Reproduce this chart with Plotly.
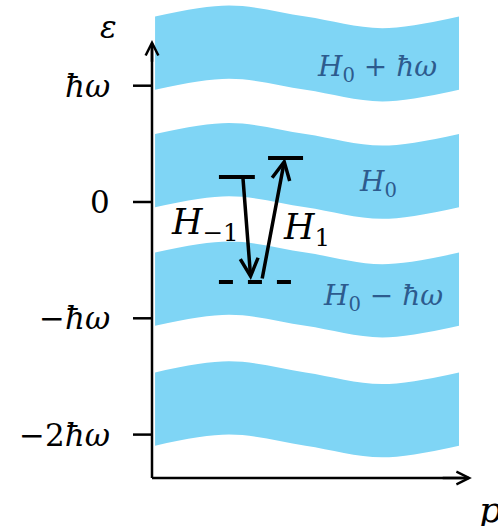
import plotly.graph_objects as go

# ---- Floquet sidebands (energies in units of hbar*omega) ----
band_centers = [1.28, 0.27, -0.75, -1.78]
band_half_width = 0.315
# common dispersion profile of every band, sampled along p
wave_p = [0.01, 0.25, 0.5, 0.75, 1.0]
wave_dE = [0.0, 0.095, 0.0, -0.10, 0.0]
band_color = "#7fd5f5"

band_labels = ["<i>H</i><sub>0</sub> + <i>ħω</i>",
               "<i>H</i><sub>0</sub>",
               "<i>H</i><sub>0</sub> − <i>ħω</i>"]
band_label_p = [0.733, 0.736, 0.752]
band_label_E = [1.152, 0.163, -0.817]

# ---- energy axis ticks ----
tick_vals = [1, 0, -1, -2]
tick_text = ["<i>ħω</i>", "0", "−<i>ħω</i>", "−2<i>ħω</i>"]

# ---- axis extents ----
axis_origin_E = -2.373
axis_top_E = 1.393
axis_end_p = 1.042

# ---- transition levels and arrows ----
level_E = [0.215, 0.378, -0.688]
level_p0 = [0.218, 0.378, 0.218]
level_p1 = [0.335, 0.492, 0.459]
level_dash = ["solid", "solid", "14px,15px"]

arrow_tail_p = [0.296, 0.358]
arrow_tail_E = [0.215, -0.671]
arrow_tip_p = [0.322, 0.433]
arrow_tip_E = [-0.671, 0.378]
arrow_labels = ["<i>H</i><sub>−1</sub>", "<i>H</i><sub>1</sub>"]
arrow_label_p = [0.173, 0.502]
arrow_label_E = [-0.19, -0.235]

FONT = "DejaVu Serif"

fig = go.Figure()

# wavy bands: lower edge, then upper edge filled down to it
for c in band_centers:
    lower = [c - band_half_width + d for d in wave_dE]
    upper = [c + band_half_width + d for d in wave_dE]
    fig.add_trace(go.Scatter(x=wave_p, y=lower, mode="lines",
                             line=dict(width=0, shape="spline", color=band_color),
                             hoverinfo="skip", showlegend=False))
    fig.add_trace(go.Scatter(x=wave_p, y=upper, mode="lines", fill="tonexty",
                             fillcolor=band_color,
                             line=dict(width=0, shape="spline", color=band_color),
                             hoverinfo="skip", showlegend=False))

shapes = []
# axes
shapes.append(dict(type="line", x0=0, x1=0, y0=axis_origin_E, y1=axis_top_E - 0.03,
                   line=dict(color="black", width=2.5), layer="above"))
shapes.append(dict(type="line", x0=0, x1=axis_end_p - 0.01, y0=axis_origin_E, y1=axis_origin_E,
                   line=dict(color="black", width=2.5), layer="above"))
# tick marks
for t in tick_vals:
    shapes.append(dict(type="line", x0=-0.062, x1=0, y0=t, y1=t,
                       line=dict(color="black", width=2.5), layer="above"))
# levels
for E, p0, p1, dsh in zip(level_E, level_p0, level_p1, level_dash):
    shapes.append(dict(type="line", x0=p0, x1=p1, y0=E, y1=E,
                       line=dict(color="black", width=4, dash=dsh), layer="above"))

annotations = []
# axis arrowheads
annotations.append(dict(x=0, y=axis_top_E, ax=0, ay=axis_top_E - 0.2,
                        xref="x", yref="y", axref="x", ayref="y", text="",
                        showarrow=True, arrowhead=5, arrowwidth=2.5, arrowsize=1.0,
                        arrowcolor="black"))
annotations.append(dict(x=axis_end_p, y=axis_origin_E, ax=axis_end_p - 0.1, ay=axis_origin_E,
                        xref="x", yref="y", axref="x", ayref="y", text="",
                        showarrow=True, arrowhead=5, arrowwidth=2.5, arrowsize=1.0,
                        arrowcolor="black"))
# transition arrows
for tp, tE, hp, hE in zip(arrow_tail_p, arrow_tail_E, arrow_tip_p, arrow_tip_E):
    annotations.append(dict(x=hp, y=hE, ax=tp, ay=tE,
                            xref="x", yref="y", axref="x", ayref="y", text="",
                            showarrow=True, arrowhead=5, arrowwidth=3.5, arrowsize=1.0,
                            arrowcolor="black"))
for txt, p, E in zip(arrow_labels, arrow_label_p, arrow_label_E):
    annotations.append(dict(x=p, y=E, text=txt, showarrow=False,
                            font=dict(family=FONT, size=35, color="black")))
# band labels
for txt, p, E in zip(band_labels, band_label_p, band_label_E):
    annotations.append(dict(x=p, y=E, text=txt, showarrow=False,
                            font=dict(family=FONT, size=28, color="#2d5b8e")))
# tick labels
for t, txt in zip(tick_vals, tick_text):
    annotations.append(dict(x=-0.13, y=t, text=txt, showarrow=False, xanchor="right",
                            font=dict(family=FONT, size=31, color="black")))
# axis titles
annotations.append(dict(x=-0.143, y=1.505, text="<i>ε</i>", showarrow=False,
                        font=dict(family=FONT, size=31, color="black")))
annotations.append(dict(x=1.101, y=-2.648, text="<i>p</i>", showarrow=False,
                        font=dict(family=FONT, size=36, color="black")))

fig.update_layout(
    width=498, height=526,
    margin=dict(l=0, r=0, t=0, b=0),
    paper_bgcolor="white", plot_bgcolor="white",
    xaxis=dict(range=[-0.4951, 1.1270], visible=False, fixedrange=True),
    yaxis=dict(range=[-2.7859, 1.7369], visible=False, fixedrange=True),
    shapes=shapes, annotations=annotations,
    showlegend=False,
)

fig.write_html("out.html")
